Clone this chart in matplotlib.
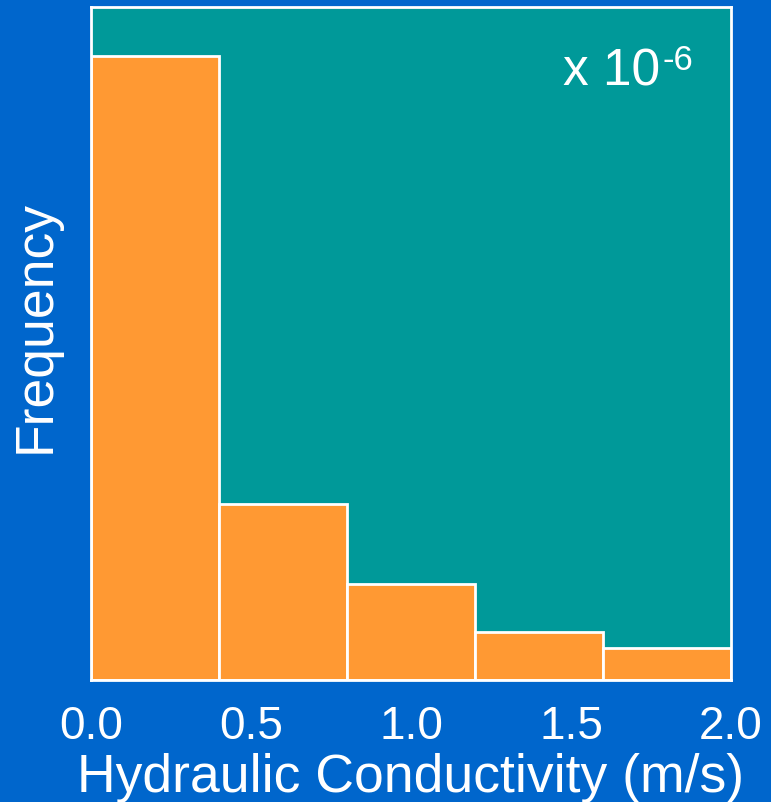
import matplotlib
matplotlib.use("Agg")
import matplotlib.pyplot as plt

bin_edges = [0.0, 0.4, 0.8, 1.2, 1.6, 2.0]
frequencies = [39, 11, 6, 3, 2]
xtick_values = [0.0, 0.5, 1.0, 1.5, 2.0]
xtick_labels = ["0.0", "0.5", "1.0", "1.5", "2.0"]

plt.rcParams['font.family'] = ['Liberation Sans', 'DejaVu Sans']

W, H = 771, 803
fig = plt.figure(figsize=(W/100, H/100), dpi=100, facecolor='#0066CC')
ax = fig.add_axes([91/W, 1-681/H, 640/W, 673/H])
ax.set_facecolor('#009999')

widths = [bin_edges[i+1]-bin_edges[i] for i in range(len(frequencies))]
ax.bar(bin_edges[:-1], frequencies, width=widths, align='edge',
       color='#FF9933', edgecolor='white', linewidth=2)

ax.set_xlim(0, 2.0)
ax.set_ylim(0, 42.06)
ax.set_yticks([])
ax.set_xticks(xtick_values)
ax.set_xticklabels(xtick_labels)
ax.tick_params(axis='x', length=0, pad=17, labelsize=33, colors='white')
for s in ax.spines.values():
    s.set_color('white')
    s.set_linewidth(2)

ax.set_xlabel('Hydraulic Conductivity (m/s)', fontsize=38.5, color='white', labelpad=3)
ax.set_ylabel('Frequency', fontsize=38.5, color='white')
lab = ax.yaxis.label
lab.set_rotation_mode('default')
lab.set_verticalalignment('center')
lab.set_horizontalalignment('center')
ax.yaxis.set_label_coords((36-91)/640, (681-327)/673)

fig.text(563/W, 1-85/H, 'x 10', ha='left', va='baseline', fontsize=37, color='white')
fig.text(662/W, 1-70/H, '-6', ha='left', va='baseline', fontsize=25, color='white')

fig.savefig('out.png', dpi=100, facecolor=fig.get_facecolor())
